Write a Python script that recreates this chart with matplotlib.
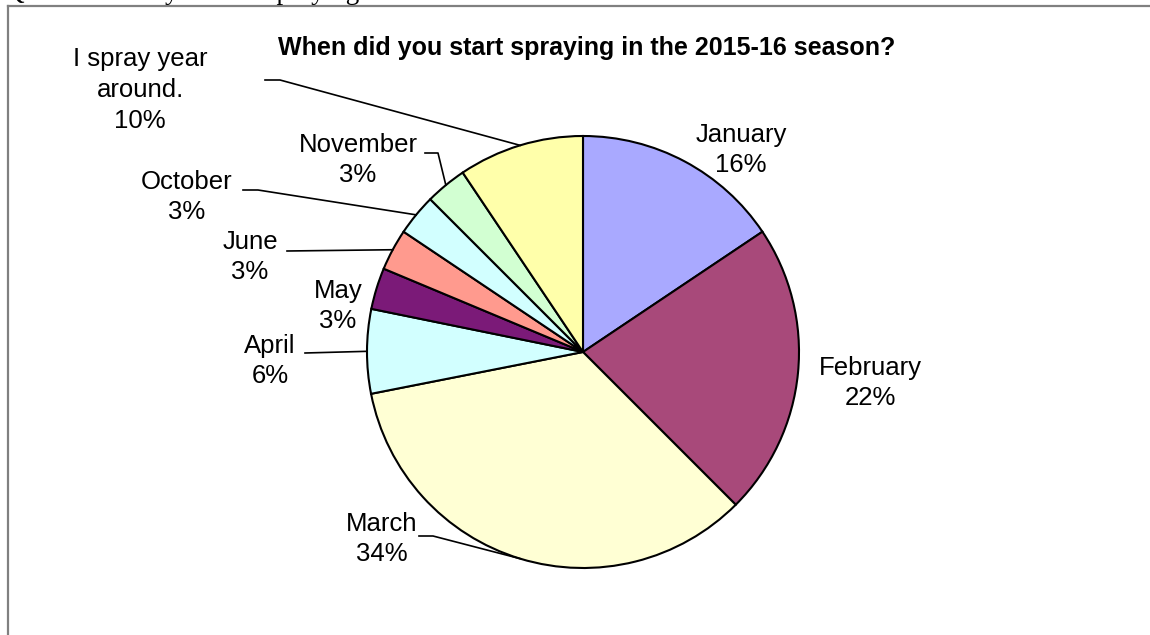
import numpy as np
import matplotlib.pyplot as plt
from matplotlib.lines import Line2D

W, H = 1150, 635

# datos (angulos de las porciones)
meses = ["January", "February", "March", "April", "May", "June",
         "October", "November", "I spray year\naround."]
porcentajes = [15.6, 21.9, 34.4, 6.3, 3.1, 3.1, 3.1, 3.1, 9.4]
etiquetas_pct = ["16%", "22%", "34%", "6%", "3%", "3%", "3%", "3%", "10%"]
colores = ["#A9A9FF", "#A8497A", "#FFFFD4", "#D2FFFF", "#7B1A78",
           "#FF9A8E", "#D2FFFF", "#D2FFD2", "#FFFFAA"]

titulo = "When did you start spraying in the 2015-16 season?"

# posicion del texto (pixeles) y puntos del conector (None = sin conector)
pos_texto = [(741, 150), (870, 383), (382, 539), (270, 361), (338, 306),
             (250, 257), (187, 197), (358, 160), (140, 90)]
conectores = [None, None, [(419, 536), (433, 536)], [(305, 353)], None,
              [(287, 251)], [(243, 190), (258, 190)], [(425, 153), (438, 153)],
              [(265, 80), (280, 80)]]

centro = (583, 352)
radio = 216


def py(y):
    # pasa de coordenada de pixel (arriba hacia abajo) a coordenada del eje
    return H - y


fig = plt.figure(figsize=(W / 100, H / 100), dpi=100)
ax = fig.add_axes([0, 0, 1, 1])

wedges, _ = ax.pie(porcentajes, colors=colores, startangle=90, counterclock=False,
                   center=(centro[0], py(centro[1])), radius=radio,
                   wedgeprops=dict(edgecolor="black", linewidth=1.5))

for wedge, mes, pct, pos, con in zip(wedges, meses, etiquetas_pct, pos_texto, conectores):
    ax.text(pos[0], py(pos[1]), mes + "\n" + pct, ha="center", va="center",
            fontsize=18.5, family="Liberation Sans", linespacing=1.36)
    if con is not None:
        ang = np.deg2rad((wedge.theta1 + wedge.theta2) / 2)
        ex = centro[0] + radio * np.cos(ang)
        ey = py(centro[1]) + radio * np.sin(ang)
        xs = [p[0] for p in con] + [ex]
        ys = [py(p[1]) for p in con] + [ey]
        ax.plot(xs, ys, color="black", linewidth=1.2)

ax.text(587, py(48), titulo, ha="center", va="center", fontsize=18,
        fontweight="bold", family="Liberation Sans")

ax.set_xlim(0, W)
ax.set_ylim(0, H)
ax.set_aspect("equal")
ax.axis("off")

# marco gris
fig.add_artist(Line2D([8 / W, 8 / W], [0, 1 - 6 / H], color="#808080", linewidth=1.6))
fig.add_artist(Line2D([8 / W, 1], [1 - 6 / H, 1 - 6 / H], color="#808080", linewidth=1.6))

# texto cortado del documento original
fig.text(5 / W, 1 + 1 / H, "Q1: When did you start spraying?", ha="left",
         va="baseline", fontsize=19.5, family="Liberation Serif")

fig.savefig("out.png", dpi=100)
